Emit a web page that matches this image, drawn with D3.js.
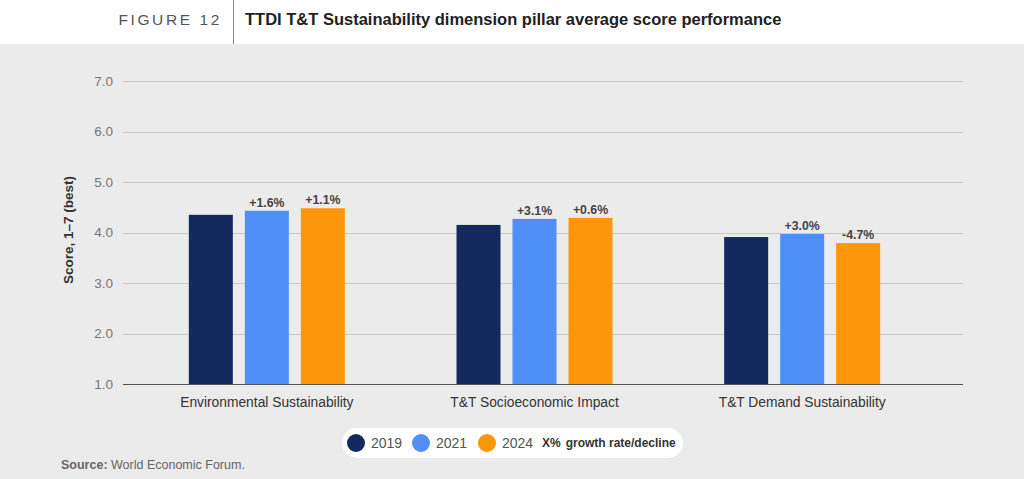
<!DOCTYPE html>
<html><head><meta charset="utf-8">
<script src="https://cdn.jsdelivr.net/npm/d3@7"></script>
<style>
html,body{margin:0;padding:0;background:#ebebeb;}
svg{display:block;font-family:"Liberation Sans",Arial,Helvetica,sans-serif;}
</style></head>
<body>
<svg id="chart" width="1024" height="479"></svg>
<script>
const categories = ["Environmental Sustainability", "T&T Socioeconomic Impact", "T&T Demand Sustainability"];
const years = ["2019", "2021", "2024"];
const values2019 = [4.35, 4.15, 3.91];
const values2021 = [4.43, 4.27, 3.97];
const values2024 = [4.48, 4.29, 3.79];
const growth2021 = ["+1.6%", "+3.1%", "+3.0%"];
const growth2024 = ["+1.1%", "+0.6%", "-4.7%"];
const yTicks = [1, 2, 3, 4, 5, 6, 7];
const colors = ["#142a5f", "#4f8ff7", "#fd960b"];

const series = [values2019, values2021, values2024];
const labels = [null, growth2021, growth2024];

const svg = d3.select("#chart");

// header
svg.append("rect").attr("x",0).attr("y",0).attr("width",1024).attr("height",44).attr("fill","#ffffff");
svg.append("line").attr("x1",233.5).attr("x2",233.5).attr("y1",0).attr("y2",44).attr("stroke","#888").attr("stroke-width",1);
svg.append("text").attr("x",222).attr("y",25).attr("text-anchor","end")
  .attr("font-size",15.5).attr("letter-spacing","2.6px").attr("fill","#555").text("FIGURE 12");
svg.append("text").attr("x",245).attr("y",25)
  .attr("font-size",16.5).attr("font-weight","bold").attr("fill","#222")
  .text("TTDI T&T Sustainability dimension pillar average score performance");

const gridX0 = 123, gridX1 = 963;
const y = d3.scaleLinear().domain([1,7]).range([384,81]);
const x0 = d3.scaleBand().domain(categories).range([133,936]).padding(0);
const x1 = d3.scaleBand().domain(years).range([0,156]).paddingInner(12/56).paddingOuter(0);

// gridlines
svg.append("g").selectAll("line").data(yTicks.filter(d=>d>1)).join("line")
  .attr("x1",gridX0).attr("x2",gridX1)
  .attr("y1",d=>Math.round(y(d))+0.5).attr("y2",d=>Math.round(y(d))+0.5)
  .attr("stroke","#c9c9c9").attr("stroke-width",1);

// y axis labels
const yAxis = d3.axisLeft(y).tickValues(yTicks).tickFormat(d3.format(".1f")).tickSize(0).tickPadding(0);
const ga = svg.append("g").attr("transform","translate(113,0)").call(yAxis);
ga.select(".domain").remove();
ga.selectAll("text").attr("font-size",13.5).attr("fill","#777").attr("font-family","Liberation Sans, Arial, sans-serif");

// y title
svg.append("text").attr("transform","translate(73,230) rotate(-90)").attr("text-anchor","middle")
  .attr("font-size",13.5).attr("font-weight","bold").attr("fill","#333").text("Score, 1–7 (best)");

// bars
const groups = svg.append("g").selectAll("g").data(categories).join("g")
  .attr("transform",c=>`translate(${x0(c)+x0.bandwidth()/2-78},0)`);
years.forEach((yr,si)=>{
  groups.append("rect")
    .attr("x",x1(yr)).attr("width",x1.bandwidth())
    .attr("y",(c,i)=>y(series[si][i]))
    .attr("height",(c,i)=>y(1)-y(series[si][i]))
    .attr("fill",colors[si]);
  if(labels[si]){
    groups.append("text")
      .attr("x",x1(yr)+x1.bandwidth()/2)
      .attr("y",(c,i)=>y(series[si][i])-4)
      .attr("text-anchor","middle").attr("font-size",12.3).attr("font-weight","bold").attr("fill","#444")
      .text((c,i)=>labels[si][i]);
  }
});

// baseline
svg.append("line").attr("x1",gridX0).attr("x2",gridX1).attr("y1",384.5).attr("y2",384.5)
  .attr("stroke","#555").attr("stroke-width",1.2);

// x axis labels
const xAxis = d3.axisBottom(x0).tickSize(0).tickPadding(0);
const gx = svg.append("g").attr("transform","translate(0,397)").call(xAxis);
gx.select(".domain").remove();
gx.selectAll("text").attr("font-size",13.8).attr("fill","#333").attr("font-family","Liberation Sans, Arial, sans-serif").attr("dy","0.71em");

// legend
const lg = svg.append("g");
lg.append("rect").attr("x",342).attr("y",428).attr("width",341).attr("height",30).attr("rx",15).attr("fill","#ffffff");
const legX = [356, 421, 487];
years.forEach((yr,i)=>{
  lg.append("circle").attr("cx",legX[i]).attr("cy",443).attr("r",9).attr("fill",colors[i]);
  lg.append("text").attr("x",legX[i]+15).attr("y",448).attr("font-size",14).attr("fill","#555").text(yr);
});
lg.append("text").attr("x",542).attr("y",447).attr("font-size",12).attr("font-weight","bold").attr("fill","#333")
  .text("X%").append("tspan").attr("dx",5).attr("font-size",12).text("growth rate/decline");

// source
svg.append("text").attr("x",61).attr("y",469).attr("font-size",12.5).attr("fill","#666")
  .append("tspan").attr("font-weight","bold").text("Source:")
  .select(function(){return this.parentNode;})
  .append("tspan").text(" World Economic Forum.");
</script>
</body></html>
